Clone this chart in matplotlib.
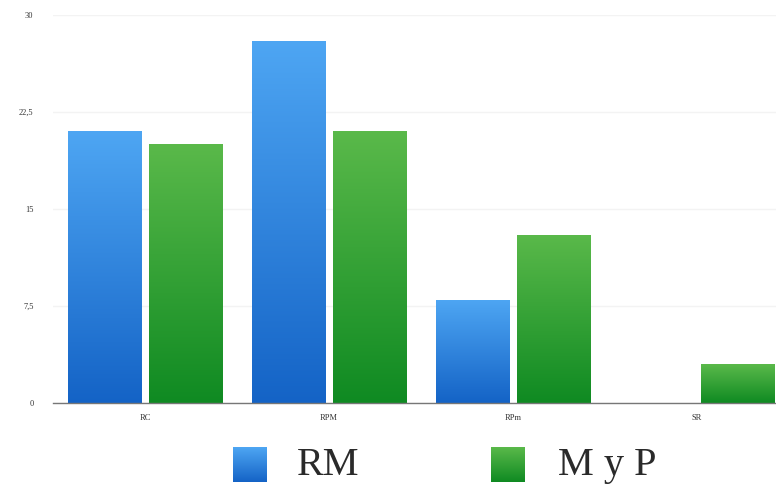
import numpy as np
import matplotlib
matplotlib.use("Agg")
from matplotlib import pyplot as plt
from matplotlib.colors import LinearSegmentedColormap

categories = ["RC", "RPM", "RPm", "SR"]
rm_values = [21, 28, 8, 0]
myp_values = [20, 21, 13, 3]
series_names = ["RM", "M y P"]
y_ticks = [0, 7.5, 15, 22.5, 30]
y_tick_labels = ["0", "7,5", "15", "22,5", "30"]

blue_cmap = LinearSegmentedColormap.from_list("blue", ["#1463c6", "#4ea6f3"])
green_cmap = LinearSegmentedColormap.from_list("green", ["#0f8a22", "#5ab94a"])

plt.rcParams["font.family"] = ["Liberation Serif", "DejaVu Serif"]

fig = plt.figure(figsize=(7.76, 4.90), dpi=100)
ax = fig.add_axes([53 / 776, 1 - 403 / 490, 736 / 776, 388 / 490])

x = np.arange(len(categories))
w = 0.397
off = 0.22
bars_rm = ax.bar(x - off, rm_values, w, color="none")
bars_myp = ax.bar(x + off, myp_values, w, color="none")

# vertical gradient inside each bar
grad = np.linspace(0, 1, 256).reshape(-1, 1)
for bars, cmap in [(bars_rm, blue_cmap), (bars_myp, green_cmap)]:
    for b in bars:
        h = b.get_height()
        if h <= 0:
            continue
        bx = b.get_x()
        im = ax.imshow(grad, cmap=cmap, origin="lower", aspect="auto",
                       extent=[bx, bx + b.get_width(), 0, h], zorder=2)
        im.set_clip_path(b)

ax.set_xlim(-0.5, 3.5)
ax.set_ylim(0, 30)
ax.set_yticks(y_ticks)
ax.set_yticklabels(y_tick_labels)
ax.set_xticks(x)
ax.set_xticklabels(categories)
ax.tick_params(axis="both", length=0, labelsize=6, colors="#333333")
ax.tick_params(axis="y", pad=14)
ax.tick_params(axis="x", pad=8)

for s in ["top", "right", "left"]:
    ax.spines[s].set_visible(False)
ax.spines["bottom"].set_color("#777777")
ax.spines["bottom"].set_linewidth(1.0)
ax.spines["bottom"].set_zorder(3)

ax.yaxis.grid(True, color="#f3f3f3", linewidth=1.0)
ax.set_axisbelow(True)

# legend drawn as squares and text under the axes
for (lx, tx, cmap, name) in [(233, 297, blue_cmap, series_names[0]),
                             (491, 558, green_cmap, series_names[1])]:
    lax = fig.add_axes([lx / 776, 1 - 482 / 490, 34 / 776, 35 / 490])
    lax.imshow(grad, cmap=cmap, origin="lower", aspect="auto")
    lax.axis("off")
    fig.text(tx / 776, 1 - 465 / 490, name, fontsize=29, va="center",
             ha="left", color="#2a2a2a")

fig.savefig("out.png", dpi=100)
